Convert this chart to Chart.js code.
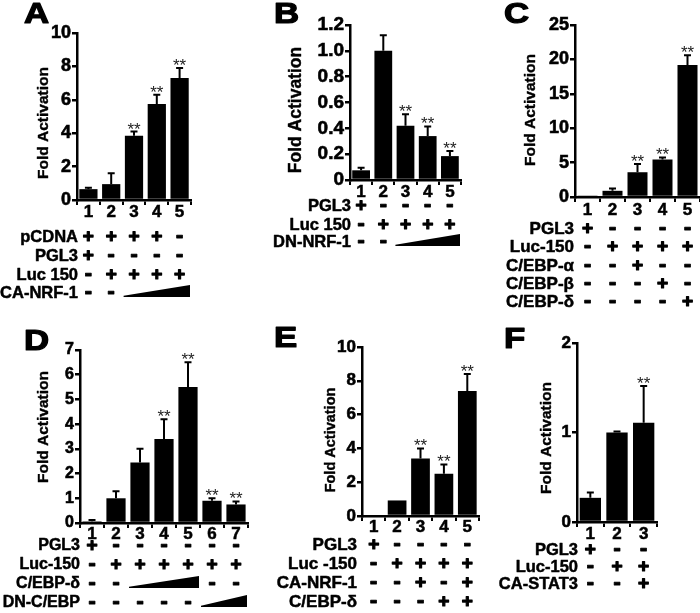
<!DOCTYPE html>
<html><head><meta charset="utf-8">
<script src="https://cdn.jsdelivr.net/npm/chart.js@4.4.1/dist/chart.umd.min.js"></script>
<style>
html,body{margin:0;padding:0;background:#fff;overflow:hidden;width:700px;height:613px}
canvas{position:absolute;left:0;top:0}
</style></head><body>
<canvas id="cA" width="700" height="613"></canvas>
<canvas id="cB" width="700" height="613"></canvas>
<canvas id="cC" width="700" height="613"></canvas>
<canvas id="cD" width="700" height="613"></canvas>
<canvas id="cE" width="700" height="613"></canvas>
<canvas id="cF" width="700" height="613"></canvas>
<script>
const FONT = '"Liberation Sans", Arial, Helvetica, sans-serif';

// ---------- Panel A ----------
const catsA = ['1','2','3','4','5'];
const valsA = [0.65, 0.95, 3.85, 5.75, 7.3];
const errsA = [0.08, 0.65, 0.25, 0.55, 0.6];
const starsA = ['', '', '**', '**', '**'];
const rowLabelsA = ['pCDNA', 'PGL3', 'Luc 150', 'CA-NRF-1'];
const rowCellsA = [
  ['+','+','+','+','-'],
  ['+','-','-','-','-'],
  ['-','+','+','+','+'],
  ['-','-','','','']
];
const wedgesA = [[3, 2, 4]];

// ---------- Panel B ----------
const catsB = ['1','2','3','4','5'];
const valsB = [0.075, 1.0, 0.42, 0.34, 0.185];
const errsB = [0.02, 0.12, 0.09, 0.075, 0.04];
const starsB = ['', '', '**', '**', '**'];
const rowLabelsB = ['PGL3', 'Luc 150', 'DN-NRF-1'];
const rowCellsB = [
  ['+','-','-','-','-'],
  ['-','+','+','+','+'],
  ['-','-','','','']
];
const wedgesB = [[2, 2, 4]];

// ---------- Panel C ----------
const catsC = ['1','2','3','4','5'];
const valsC = [0.1, 0.9, 3.6, 5.45, 19.2];
const errsC = [0, 0.35, 1.2, 0.3, 1.4];
const starsC = ['', '', '**', '**', '**'];
const rowLabelsC = ['PGL3', 'Luc-150', 'C/EBP-α', 'C/EBP-β', 'C/EBP-δ'];
const rowCellsC = [
  ['+','-','-','-','-'],
  ['-','+','+','+','+'],
  ['-','-','+','-','-'],
  ['-','-','-','+','-'],
  ['-','-','-','-','+']
];
const wedgesC = [];

// ---------- Panel D ----------
const catsD = ['1','2','3','4','5','6','7'];
const valsD = [0.07, 1.0, 2.45, 3.4, 5.5, 0.9, 0.75];
const errsD = [0.05, 0.28, 0.55, 0.8, 1.0, 0.1, 0.12];
const starsD = ['', '', '', '**', '**', '**', '**'];
const rowLabelsD = ['PGL3', 'Luc-150', 'C/EBP-δ', 'DN-C/EBP'];
const rowCellsD = [
  ['+','-','-','-','-','-','-'],
  ['-','+','+','+','+','+','+'],
  ['-','-','','','','-','-'],
  ['-','-','-','-','-','','']
];
const wedgesD = [[2, 2, 4], [3, 5, 6]];

// ---------- Panel E ----------
const catsE = ['1','2','3','4','5'];
const valsE = [0, 0.92, 3.4, 2.5, 7.4];
const errsE = [0, 0, 0.6, 0.55, 1.0];
const starsE = ['', '', '**', '**', '**'];
const rowLabelsE = ['PGL3', 'Luc -150', 'CA-NRF-1', 'C/EBP-δ'];
const rowCellsE = [
  ['+','-','-','-','-'],
  ['-','+','+','+','+'],
  ['-','-','+','-','+'],
  ['-','-','-','+','+']
];
const wedgesE = [];

// ---------- Panel F ----------
const catsF = ['1','2','3'];
const valsF = [0.27, 1.0, 1.11];
const errsF = [0.06, 0.01, 0.41];
const starsF = ['', '', '**'];
const rowLabelsF = ['PGL3', 'Luc-150', 'CA-STAT3'];
const rowCellsF = [
  ['+','-','-'],
  ['-','+','+'],
  ['-','-','+']
];
const wedgesF = [];

// layout (positions/sizes only)
const panels = [
  {id:'cA', letter:'A', cats:catsA, vals:valsA, errs:errsA, stars:starsA, rowLabels:rowLabelsA, rowCells:rowCellsA, wedges:wedgesA,
   plot:{l:77,t:33,r:191,b:200}, yMax:10, step:2, tickSize:18, xTickSize:17, xPad:-1, titleX:44, titleCY:123, titleSize:15.5,
   letterPos:[24,23], labelRight:78, rowsY:[237,256,275,293], tableSize:16.5},
  {id:'cB', letter:'B', cats:catsB, vals:valsB, errs:errsB, stars:starsB, rowLabels:rowLabelsB, rowCells:rowCellsB, wedges:wedgesB,
   plot:{l:350,t:25,r:461,b:180}, yMax:1.2, step:0.2, tickSize:19, xTickSize:17, xPad:-1, titleX:296, titleCY:110, titleSize:17.5,
   letterPos:[274,23], labelRight:351, rowsY:[206,225,242], tableSize:16.5, fixed:true},
  {id:'cC', letter:'C', cats:catsC, vals:valsC, errs:errsC, stars:starsC, rowLabels:rowLabelsC, rowCells:rowCellsC, wedges:wedgesC,
   plot:{l:575,t:25,r:700,b:197}, yMax:25, step:5, tickSize:18, xTickSize:17, xPad:0, titleX:531, titleCY:110, titleSize:15.5,
   letterPos:[504,23], labelRight:574, rowsY:[229,247,266,284,302], tableSize:17},
  {id:'cD', letter:'D', cats:catsD, vals:valsD, errs:errsD, stars:starsD, rowLabels:rowLabelsD, rowCells:rowCellsD, wedges:wedgesD,
   plot:{l:80,t:350,r:248,b:523}, yMax:7, step:1, tickSize:16, xTickSize:17, xPad:-2, titleX:44, titleCY:427, titleSize:15.5,
   letterPos:[24,350], labelRight:80, rowsY:[546,565,584,603], tableSize:16},
  {id:'cE', letter:'E', cats:catsE, vals:valsE, errs:errsE, stars:starsE, rowLabels:rowLabelsE, rowCells:rowCellsE, wedges:wedgesE,
   plot:{l:362,t:347,r:479,b:516}, yMax:10, step:2, tickSize:17, xTickSize:17, xPad:-2, titleX:331, titleCY:440, titleSize:14.5,
   letterPos:[274,347], labelRight:357, rowsY:[545,564,583,602], tableSize:17},
  {id:'cF', letter:'F', cats:catsF, vals:valsF, errs:errsF, stars:starsF, rowLabels:rowLabelsF, rowCells:rowCellsF, wedges:wedgesF,
   plot:{l:577,t:343,r:657,b:522}, yMax:2, step:1, tickSize:17, xTickSize:17, xPad:-1, titleX:547, titleCY:438, titleSize:15.5,
   letterPos:[504,348], labelRight:578, rowsY:[550,567,584], tableSize:16.5}
];

const Y_W = 60, X_H = 30;

function heavyText(ctx, s, x, y, w) {
  ctx.lineWidth = w; ctx.strokeStyle = '#000'; ctx.lineJoin = 'round';
  ctx.strokeText(s, x, y); ctx.fillText(s, x, y);
}

function extras(p) {
  return {
    id: 'extras_' + p.id,
    afterDatasetsDraw(chart) {
      const ctx = chart.ctx, meta = chart.getDatasetMeta(0), ys = chart.scales.y;
      ctx.save();
      ctx.strokeStyle = '#000'; ctx.lineWidth = 2;
      p.vals.forEach((v, i) => {
        const e = p.errs[i];
        const x = meta.data[i].x;
        const y0 = ys.getPixelForValue(v), y1 = ys.getPixelForValue(v + e);
        if (e > 0) {
          ctx.beginPath();
          ctx.moveTo(x, y0); ctx.lineTo(x, y1);
          ctx.moveTo(x - 3.5, y1); ctx.lineTo(x + 3.5, y1);
          ctx.stroke();
        }
        if (p.stars[i]) {
          ctx.font = `17px ${FONT}`; ctx.fillStyle = '#222';
          ctx.textAlign = 'center'; ctx.textBaseline = 'alphabetic';
          ctx.fillText(p.stars[i], x, y1 + 3);
        }
      });
      ctx.restore();
    },
    afterDraw(chart) {
      const ctx = chart.ctx, meta = chart.getDatasetMeta(0), xs = chart.scales.x;
      const half = (xs.getPixelForValue(1) - xs.getPixelForValue(0)) / 2;
      ctx.save();
      ctx.fillStyle = '#000';
      // panel letter
      ctx.save();
      ctx.translate(p.letterPos[0], p.letterPos[1]); ctx.scale(1.2, 1);
      ctx.font = `bold 29px ${FONT}`; ctx.textAlign = 'left'; ctx.textBaseline = 'alphabetic';
      heavyText(ctx, p.letter, 0, 0, 1.2);
      ctx.restore();
      // y title
      ctx.save();
      ctx.translate(p.titleX, p.titleCY); ctx.rotate(-Math.PI / 2);
      ctx.font = `bold ${p.titleSize}px ${FONT}`; ctx.textAlign = 'center'; ctx.textBaseline = 'middle';
      heavyText(ctx, 'Fold Activation', 0, 0, 0.4);
      ctx.restore();
      // table
      p.rowLabels.forEach((lab, r) => {
        const yy = p.rowsY[r];
        ctx.font = `bold ${p.tableSize}px ${FONT}`; ctx.textAlign = 'right'; ctx.textBaseline = 'middle';
        heavyText(ctx, lab, p.labelRight, yy, 0.5);
        p.rowCells[r].forEach((s, i) => {
          if (!s) return;
          const x = meta.data[i].x;
          ctx.textAlign = 'center';
          if (s === '+') { ctx.font = `bold 19px ${FONT}`; heavyText(ctx, '+', x, yy, 1.2); }
          else { ctx.font = `bold 23px ${FONT}`; heavyText(ctx, '-', x, yy, 0.8); }
        });
      });
      p.wedges.forEach(([r, a, b]) => {
        const x1 = meta.data[a].x - half + 1, x2 = meta.data[b].x + half - 1;
        const yb = p.rowsY[r] + 4;
        ctx.beginPath();
        ctx.moveTo(x1, yb); ctx.lineTo(x1, yb - 1.2); ctx.lineTo(x2, yb - 12); ctx.lineTo(x2, yb);
        ctx.closePath(); ctx.fill();
      });
      ctx.restore();
    }
  };
}

panels.forEach(p => {
  new Chart(document.getElementById(p.id), {
    type: 'bar',
    data: { labels: p.cats, datasets: [{ data: p.vals, backgroundColor: '#000', borderWidth: 0,
      barPercentage: 0.8, categoryPercentage: 1.0 }] },
    options: {
      responsive: false, animation: false, events: [], devicePixelRatio: 1,
      layout: { padding: { left: p.plot.l - Y_W, top: p.plot.t, right: 700 - p.plot.r, bottom: 613 - p.plot.b - X_H } },
      plugins: { legend: { display: false }, tooltip: { enabled: false } },
      scales: {
        x: {
          type: 'category',
          grid: { display: true, drawOnChartArea: false, drawTicks: true, tickLength: 5, color: '#000', lineWidth: 2, offset: true },
          border: { display: true, color: '#000', width: 2.5 },
          ticks: { color: '#000', font: { family: FONT, size: p.xTickSize, weight: 'bold', lineHeight: 1 }, padding: p.xPad,
            autoSkip: false, maxRotation: 0, textStrokeColor: '#000', textStrokeWidth: 0.5 },
          afterFit: s => { s.height = X_H; }
        },
        y: {
          min: 0, max: p.yMax,
          grid: { drawOnChartArea: false, drawTicks: true, tickLength: 5, color: '#000', lineWidth: 2.5 },
          border: { display: true, color: '#000', width: 2.5 },
          ticks: { stepSize: p.step, color: '#000', padding: 1, textStrokeColor: '#000', textStrokeWidth: 0.6,
            font: { family: FONT, size: p.tickSize, weight: 'bold' },
            callback: v => p.fixed ? (v === 0 ? '0' : Number(v).toFixed(1)) : String(Math.round(v * 100) / 100) },
          afterFit: s => { s.width = Y_W; }
        }
      }
    },
    plugins: [extras(p)]
  });
});
</script>
</body></html>
